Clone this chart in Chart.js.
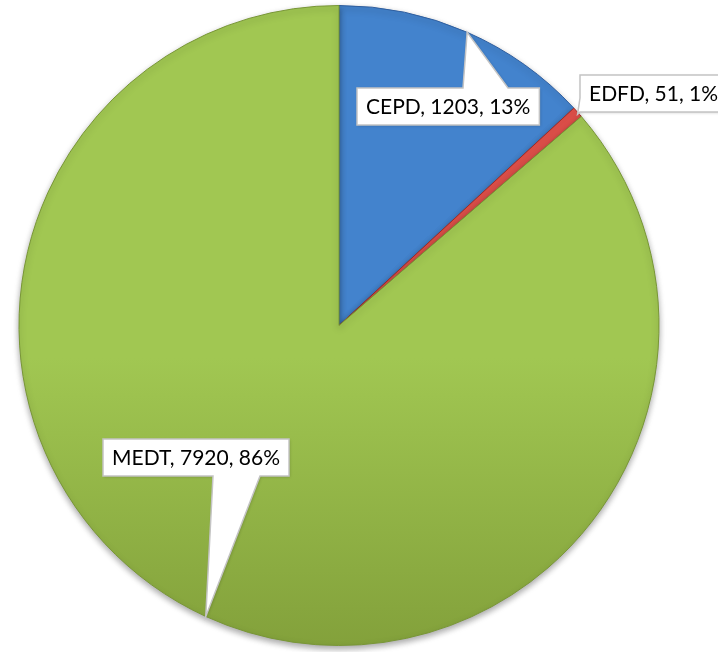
<!DOCTYPE html>
<html>
<head>
<meta charset="utf-8">
<script src="https://cdn.jsdelivr.net/npm/chart.js@4/dist/chart.umd.min.js"></script>
<style>
  html, body { margin: 0; padding: 0; background: #ffffff; }
  #wrap { width: 718px; height: 652px; }
</style>
</head>
<body>
<div id="wrap"><canvas id="c" width="718" height="652"></canvas></div>
<script>
const categories = ["CEPD", "EDFD", "MEDT"];
const values = [1203, 51, 7920];

const sliceTop = ["#4383cd", "#e0504a", "#a1c752"];
const sliceBottom = ["#3870b8", "#c2362f", "#83a13b"];
const sliceEdge = ["#2f5e9e", "#9e2a25", "#789636"];

// callout box top-left corners and pointer side (layout only)
const calloutLayout = [
  { x: 357, y: 88, side: "top", baseFrom: 463, baseTo: 508 },
  { x: 580, y: 75, side: "left", baseFrom: 98, baseTo: 113 },
  { x: 103, y: 439, side: "bottom", baseFrom: 213, baseTo: 260 }
];

function sliceGradient(ctx, i) {
  const chart = ctx.chart;
  const area = chart.chartArea;
  if (!area || !isFinite(area.top) || !isFinite(area.bottom)) return sliceTop[i];
  const g = chart.ctx.createLinearGradient(0, area.top, 0, area.bottom);
  g.addColorStop(0, sliceTop[i]);
  g.addColorStop(0.55, sliceTop[i]);
  g.addColorStop(1, sliceBottom[i]);
  return g;
}

const shadowPlugin = {
  id: "pieShadow",
  beforeDatasetsDraw(chart) {
    const c = chart.ctx;
    c.save();
    c.shadowColor = "rgba(0,0,0,0.35)";
    c.shadowBlur = 6;
    c.shadowOffsetX = 0;
    c.shadowOffsetY = 3;
  },
  afterDatasetsDraw(chart) {
    chart.ctx.restore();
  }
};

const calloutPlugin = {
  id: "callouts",
  afterDraw(chart) {
    const c = chart.ctx;
    const meta = chart.getDatasetMeta(0);
    const data = chart.data.datasets[0].data;
    const total = data.reduce((a, b) => a + b, 0);
    c.save();
    c.font = "21px Lato, 'Liberation Sans', Arial, sans-serif";
    c.textBaseline = "middle";
    meta.data.forEach((arc, i) => {
      const lay = calloutLayout[i];
      const pct = Math.round(data[i] / total * 100);
      const text = chart.data.labels[i] + ", " + data[i] + ", " + pct + "%";
      const tw = c.measureText(text).width;
      const bw = tw + 18, bh = 37;
      const bx = lay.x, by = lay.y;
      const mid = (arc.startAngle + arc.endAngle) / 2;
      const tx = arc.x + Math.cos(mid) * arc.outerRadius;
      const ty = arc.y + Math.sin(mid) * arc.outerRadius;
      c.beginPath();
      if (lay.side === "top") {
        c.moveTo(bx, by);
        c.lineTo(lay.baseFrom, by);
        c.lineTo(tx, ty);
        c.lineTo(lay.baseTo, by);
        c.lineTo(bx + bw, by);
        c.lineTo(bx + bw, by + bh);
        c.lineTo(bx, by + bh);
        c.closePath();
      } else if (lay.side === "bottom") {
        c.moveTo(bx, by);
        c.lineTo(bx + bw, by);
        c.lineTo(bx + bw, by + bh);
        c.lineTo(lay.baseTo, by + bh);
        c.lineTo(tx, ty);
        c.lineTo(lay.baseFrom, by + bh);
        c.lineTo(bx, by + bh);
        c.closePath();
      } else {
        c.moveTo(bx, by);
        c.lineTo(bx + bw, by);
        c.lineTo(bx + bw, by + bh);
        c.lineTo(bx, by + bh);
        c.lineTo(tx, ty + 2);
        c.lineTo(bx, lay.baseFrom);
        c.closePath();
      }
      c.shadowColor = "rgba(0,0,0,0.18)";
      c.shadowBlur = 3;
      c.shadowOffsetX = 1;
      c.shadowOffsetY = 1;
      c.fillStyle = "#ffffff";
      c.fill();
      c.shadowColor = "transparent";
      c.lineWidth = 1.5;
      c.strokeStyle = "#c4c4c4";
      c.stroke();
      c.fillStyle = "#000000";
      c.textAlign = "left";
      c.fillText(text, bx + 9, by + bh / 2 + 1);
    });
    c.restore();
  }
};

new Chart(document.getElementById("c"), {
  type: "pie",
  data: {
    labels: categories,
    datasets: [{
      data: values,
      backgroundColor: (ctx) => sliceGradient(ctx, ctx.dataIndex),
      borderColor: sliceEdge,
      borderWidth: 1
    }]
  },
  options: {
    responsive: false,
    animation: false,
    layout: { padding: { left: 0, right: 40, top: 5, bottom: 6 } },
    plugins: {
      legend: { display: false },
      tooltip: { enabled: false },
      title: { display: false }
    }
  },
  plugins: [shadowPlugin, calloutPlugin]
});
</script>
</body>
</html>
